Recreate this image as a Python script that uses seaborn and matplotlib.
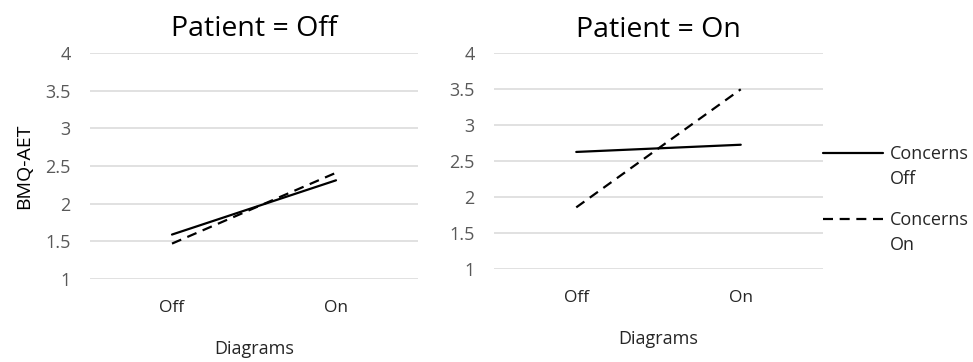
import matplotlib
matplotlib.use("Agg")
import matplotlib.pyplot as plt
import seaborn as sns
import pandas as pd

# Data
diagrams = ["Off", "On"]
concerns = ["Concerns Off", "Concerns On"]
legend_first = ["Concerns", "Concerns"]
legend_second = ["Off", "On"]
patient_off_concerns_off = [1.59, 2.31]
patient_off_concerns_on = [1.47, 2.41]
patient_on_concerns_off = [2.63, 2.73]
patient_on_concerns_on = [1.86, 3.50]
panel_titles = ["Patient = Off", "Patient = On"]
yticks = [1, 1.5, 2, 2.5, 3, 3.5, 4]
ytick_labels = ["1", "1.5", "2", "2.5", "3", "3.5", "4"]

def make_df(c_off, c_on):
    rows = []
    for d, v in zip(diagrams, c_off):
        rows.append({"Diagrams": d, "Concerns": concerns[0], "BMQ": v})
    for d, v in zip(diagrams, c_on):
        rows.append({"Diagrams": d, "Concerns": concerns[1], "BMQ": v})
    return pd.DataFrame(rows)

dfs = [make_df(patient_off_concerns_off, patient_off_concerns_on),
       make_df(patient_on_concerns_off, patient_on_concerns_on)]

sns.set_style("white")
plt.rcParams['font.family'] = ['Open Sans', 'DejaVu Sans']

fig = plt.figure(figsize=(9.73, 3.62), dpi=100)
positions = [
    [90/973, 1-279/362, (418-90)/973, (279-53)/362],
    [494/973, 1-269.3/362, (823-494)/973, (269.3-53.3)/362],
]
dash = (4.5, 3)
for i, (pos, df, title) in enumerate(zip(positions, dfs, panel_titles)):
    ax = fig.add_axes(pos)
    sns.lineplot(data=df, x="Diagrams", y="BMQ", style="Concerns",
                 dashes={concerns[0]: "", concerns[1]: dash},
                 color="black", linewidth=1.6, ax=ax, legend=(i == 1),
                 sort=False)
    ax.set_xlim(-0.5, 1.5)
    ax.set_ylim(1, 4)
    ax.set_yticks(yticks)
    ax.set_yticklabels(ytick_labels)
    ax.grid(axis="y", color="#d9d9d9", linewidth=1.1)
    ax.set_axisbelow(True)
    for s in ax.spines.values():
        s.set_visible(False)
    ax.tick_params(axis="y", length=0, pad=14, labelsize=13, labelcolor="#595959")
    ax.tick_params(axis="x", length=0, pad=15, labelsize=12.5, labelcolor="#262626")
    ax.set_title(title, fontsize=20.5, pad=12, color="black")
    ax.set_xlabel("Diagrams", fontsize=13, labelpad=17.5 if i == 0 else 17,
                  color="#262626")
    if i == 0:
        ax.set_ylabel("BMQ-AET", fontsize=14, labelpad=9, color="black")
    else:
        ax.set_ylabel("")
        handles, _ = ax.get_legend_handles_labels()
        leg = ax.legend(handles, legend_first, loc="upper left",
                        bbox_to_anchor=(1.0, 0.575),
                        frameon=False, fontsize=13, handlelength=3.3,
                        handletextpad=0.4, labelspacing=2.65, borderaxespad=0,
                        borderpad=0)
        for h in leg.get_lines():
            h.set_linewidth(1.6)
        for t, s in zip(leg.get_texts(), legend_second):
            ax.annotate(s, xy=(0, 0), xycoords=t, xytext=(0, -5),
                        textcoords="offset points", fontsize=13,
                        ha="left", va="top", color="#262626")

fig.canvas.draw()
fig.savefig("out.png", dpi=100)
